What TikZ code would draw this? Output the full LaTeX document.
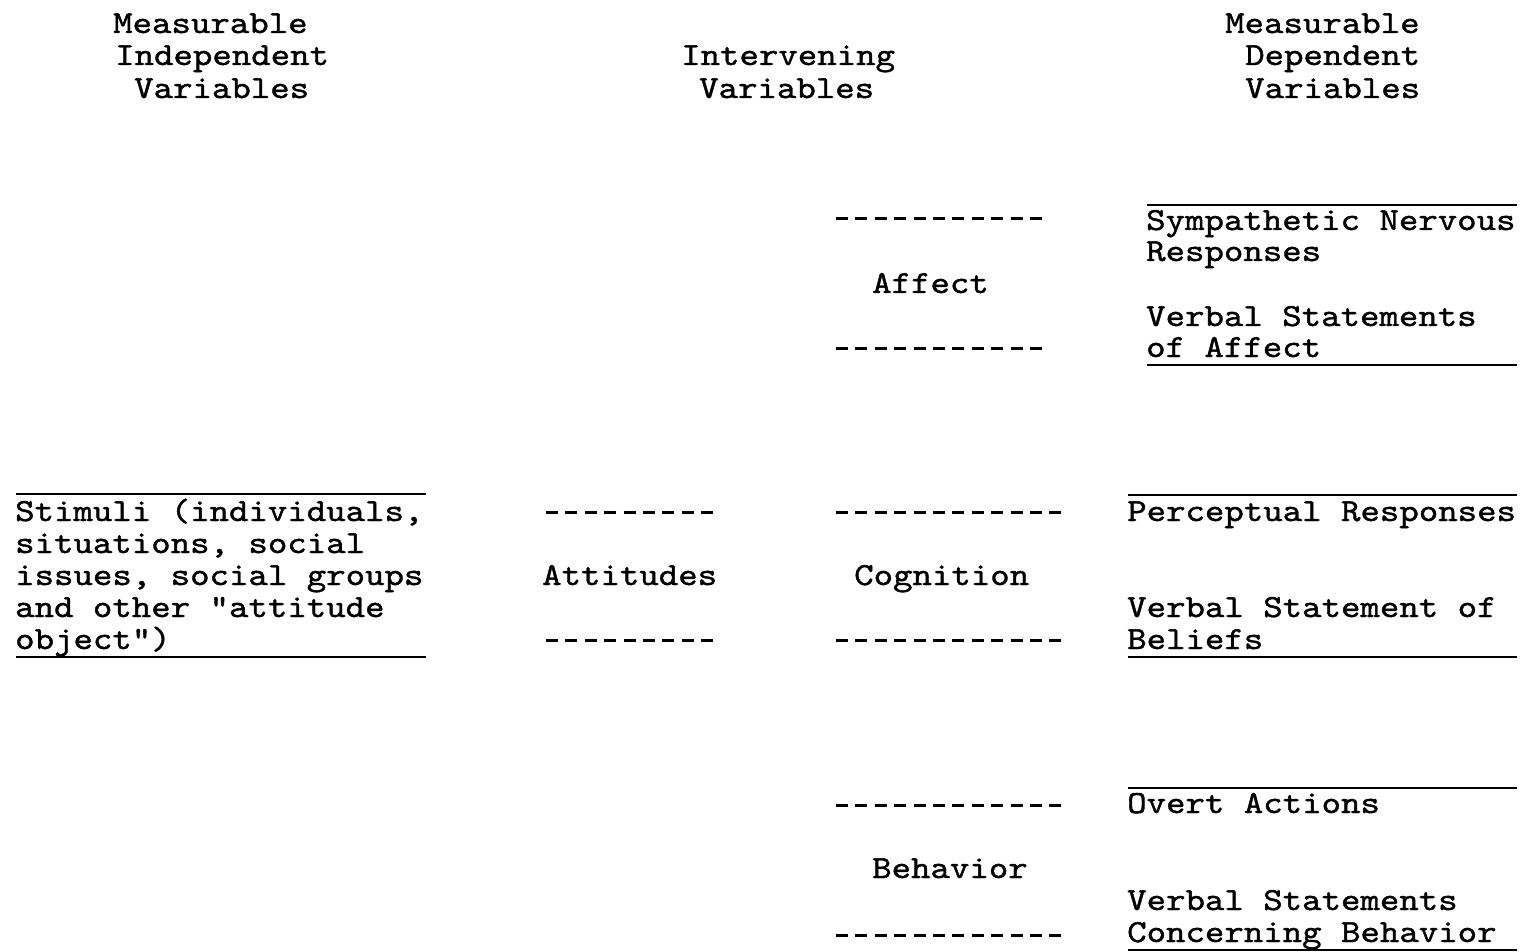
\documentclass[tikz,border=0pt]{standalone}
\usepackage{fontspec}
\setmonofont{lmmono10-regular.otf}[FakeStretch=1.15,FakeBold=1.2]
\begin{document}
\begin{tikzpicture}[x=1pt,y=-1pt,
  txt/.style={anchor=base west,inner sep=0pt,font=\ttfamily\fontsize{32.2pt}{32.2pt}\selectfont},
  rule/.style={line width=2.8pt},
  dashrule/.style={line width=3pt,dash pattern=on 12pt off 7.4pt}]
\useasboundingbox (0,0) rectangle (1527,952);
% headers
\node[txt] (h1a) at (113,33) {Measurable};
\node[txt] (h1b) at (115,65) {Independent};
\node[txt] (h1c) at (134,98) {Variables};
\node[txt] (h2a) at (681,65) {Intervening};
\node[txt] (h2b) at (699,98) {Variables};
\node[txt] (h3a) at (1225,33) {Measurable};
\node[txt] (h3b) at (1245,65) {Dependent};
\node[txt] (h3c) at (1245,98) {Variables};
% affect block
\node[txt] (aff) at (872,293) {Affect};
\node[txt] (a1) at (1146,230) {Sympathetic Nervous};
\node[txt] (a2) at (1146,261) {Responses};
\node[txt] (a3) at (1146,326) {Verbal Statements};
\node[txt] (a4) at (1146,357) {of Affect};
\draw[dashrule] (836,219) -- (1043,219);
\draw[dashrule] (836,348) -- (1043,348);
\draw[rule] (1147,205) -- (1517,205);
\draw[rule] (1147,365) -- (1517,365);
% stimuli block
\node[txt] (s1) at (15,521) {Stimuli (individuals,};
\node[txt] (s2) at (15,553) {situations, social};
\node[txt] (s3) at (15,585) {issues, social groups};
\node[txt] (s4) at (15,617) {and other "attitude};
\node[txt] (s5) at (15,649) {object")};
\draw[rule] (16,494) -- (426,494);
\draw[rule] (16,657) -- (426,657);
% attitudes
\node[txt] (att) at (542,585) {Attitudes};
\draw[dashrule] (546,512) -- (714,512);
\draw[dashrule] (546,640) -- (714,640);
% cognition block
\node[txt] (cog) at (854,585) {Cognition};
\node[txt] (c1) at (1127,521) {Perceptual Responses};
\node[txt] (c2) at (1127,617) {Verbal Statement of};
\node[txt] (c3) at (1127,649) {Beliefs};
\draw[dashrule] (836,512) -- (1062,512);
\draw[dashrule] (836,640) -- (1062,640);
\draw[rule] (1128,495) -- (1517,495);
\draw[rule] (1128,657) -- (1517,657);
% behavior block
\node[txt] (beh) at (872,878) {Behavior};
\node[txt] (b1) at (1127,813) {Overt Actions};
\node[txt] (b2) at (1127,910) {Verbal Statements};
\node[txt] (b3) at (1127,942) {Concerning Behavior};
\draw[dashrule] (836,805) -- (1062,805);
\draw[dashrule] (836,935) -- (1062,935);
\draw[rule] (1128,788) -- (1517,788);
\draw[rule] (1128,950) -- (1517,950);
\end{tikzpicture}
\end{document}
